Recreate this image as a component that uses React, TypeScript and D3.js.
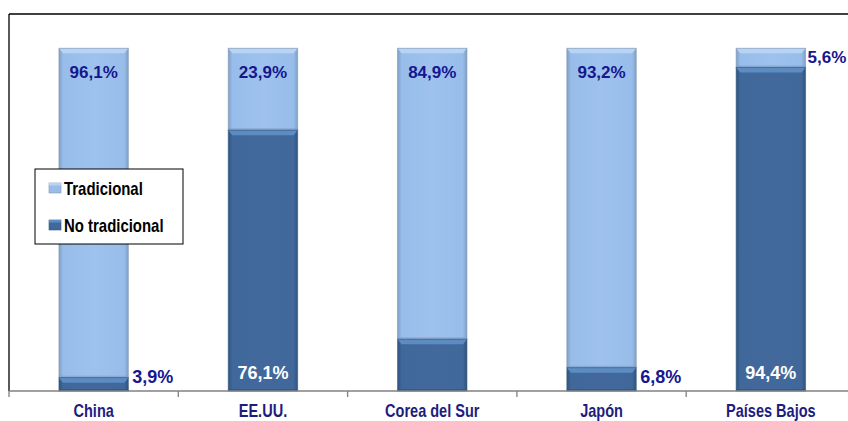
import React from "react";
import * as d3 from "d3";

const categories = ["China", "EE.UU.", "Corea del Sur", "Japón", "Países Bajos"];
const noTradicional = [3.9, 76.1, 15.1, 6.8, 94.4];
const tradicional = [96.1, 23.9, 84.9, 93.2, 5.6];
const tradLabels = ["96,1%", "23,9%", "84,9%", "93,2%", "5,6%"];
const noTradLabels = ["3,9%", "76,1%", "", "6,8%", "94,4%"];
const seriesNames = ["Tradicional", "No tradicional"];

const W = 848, H = 421;
const LIGHT = "#98bdea", LIGHT_TOP = "#b8d4f4", LIGHT_EDGE = "#7f9fc6";
const DARK = "#40689a", DARK_TOP = "#5d8cc2", DARK_EDGE = "#2f5480";
const NAVY = "#16168f";
const ARIAL = "'Liberation Sans', Arial, sans-serif";

function NarrowText({ x, y, anchor, size, fill, children }: any) {
  return (
    <text transform={`translate(${x},${y}) scale(0.83,1)`} textAnchor={anchor} fontFamily={ARIAL} fontWeight="bold" fontSize={size} fill={fill}>
      {children}
    </text>
  );
}

function Segment({ x, y, w, h, kind }: { x: number; y: number; w: number; h: number; kind: "l" | "d" }) {
  if (h <= 0) return null;
  const top = kind === "l" ? LIGHT_TOP : DARK_TOP;
  const bev = Math.min(5, h / 2);
  return (
    <g>
      <rect x={x} y={y} width={w} height={h} fill={`url(#grad-${kind})`} />
      <polygon points={`${x},${y} ${x + w},${y} ${x + w - 4},${y + bev} ${x + 4},${y + bev}`} fill={top} />
      <rect x={x} y={y + h - 2} width={w} height={2} fill={kind === "l" ? LIGHT_EDGE : DARK_EDGE} opacity={0.6} />
      <rect x={x} y={y} width={w} height={h} fill="none" stroke={kind === "l" ? "#8496ad" : "#36587f"} strokeOpacity={0.6} strokeWidth={1} />
    </g>
  );
}

export default function App() {
  const x = d3.scaleBand<string>().domain(categories).range([9, 855.5]).paddingInner(0.59).paddingOuter(0.295);
  const y = d3.scaleLinear().domain([0, 110]).range([391, 14]);
  const step = x.step();
  const bw = x.bandwidth();
  const ticks = d3.range(categories.length + 1).map((i) => 9 + i * step);

  return (
    <svg width={W} height={H} style={{ position: "absolute", left: 0, top: 0, background: "#fff" }}>
      <defs>
        <linearGradient id="grad-l" x1="0" x2="1" y1="0" y2="0">
          <stop offset="0" stopColor={LIGHT_EDGE} />
          <stop offset="0.06" stopColor={LIGHT} />
          <stop offset="0.5" stopColor="#9ec2ed" />
          <stop offset="0.94" stopColor={LIGHT} />
          <stop offset="1" stopColor={LIGHT_EDGE} />
        </linearGradient>
        <linearGradient id="grad-d" x1="0" x2="1" y1="0" y2="0">
          <stop offset="0" stopColor={DARK_EDGE} />
          <stop offset="0.06" stopColor={DARK} />
          <stop offset="0.5" stopColor="#43699c" />
          <stop offset="0.94" stopColor={DARK} />
          <stop offset="1" stopColor={DARK_EDGE} />
        </linearGradient>
      </defs>

      {/* plot frame */}
      <line x1={9} x2={W} y1={14} y2={14} stroke="#000" strokeWidth={1.3} />
      <line x1={9} x2={9} y1={14} y2={391} stroke="#000" strokeWidth={1.3} />

      {/* bars */}
      {categories.map((c, i) => {
        const x0 = x(c)!;
        const yDark = y(noTradicional[i]);
        const yTop = y(noTradicional[i] + tradicional[i]);
        return (
          <g key={c}>
            <Segment x={x0} y={yTop} w={bw} h={yDark - yTop} kind="l" />
            <Segment x={x0} y={yDark} w={bw} h={y(0) - yDark} kind="d" />
          </g>
        );
      })}

      {/* axis */}
      <line x1={9} x2={W} y1={391} y2={391} stroke="#808080" strokeWidth={1.3} />
      {ticks.map((t, i) => (
        <line key={i} x1={t} x2={t} y1={391} y2={397} stroke="#808080" strokeWidth={1.3} />
      ))}
      {categories.map((c) => (
        <NarrowText key={c} x={x(c)! + bw / 2} y={417} anchor="middle" size={17.5} fill="#1d1d80">
          {c}
        </NarrowText>
      ))}

      {/* labels tradicional */}
      {categories.map((c, i) => {
        const x0 = x(c)!;
        const small = tradicional[i] < 10;
        const yTop = y(noTradicional[i] + tradicional[i]);
        return (
          <text key={c} x={small ? x0 + bw + 2 : x0 + bw / 2} y={small ? yTop + 15 : yTop + 30}
            textAnchor={small ? "start" : "middle"} fontFamily={ARIAL} fontWeight="bold" fontSize={17} fill={NAVY}>
            {tradLabels[i]}
          </text>
        );
      })}

      {/* labels no tradicional */}
      {categories.map((c, i) => {
        if (!noTradLabels[i]) return null;
        const x0 = x(c)!;
        const small = noTradicional[i] < 10;
        return (
          <text key={c} x={small ? x0 + bw + 4 : x0 + bw / 2} y={small ? 383 : 379}
            textAnchor={small ? "start" : "middle"} fontFamily={ARIAL} fontWeight="bold" fontSize={18} fill={small ? NAVY : "#fff"}>
            {noTradLabels[i]}
          </text>
        );
      })}

      {/* legend */}
      <rect x={35} y={169} width={148} height={75} fill="#fff" stroke="#000" strokeWidth={1} />
      {seriesNames.map((s, i) => {
        const ly = 183 + i * 37;
        return (
          <g key={s}>
            <rect x={49} y={ly} width={12} height={10} fill={i === 0 ? LIGHT : DARK} stroke={i === 0 ? "#8496ad" : "#36587f"} strokeWidth={0.6} />
            <rect x={49} y={ly} width={12} height={2.5} fill={i === 0 ? LIGHT_TOP : DARK_TOP} />
            <NarrowText x={64} y={ly + 12} anchor="start" size={18} fill="#000">
              {s}
            </NarrowText>
          </g>
        );
      })}
    </svg>
  );
}
